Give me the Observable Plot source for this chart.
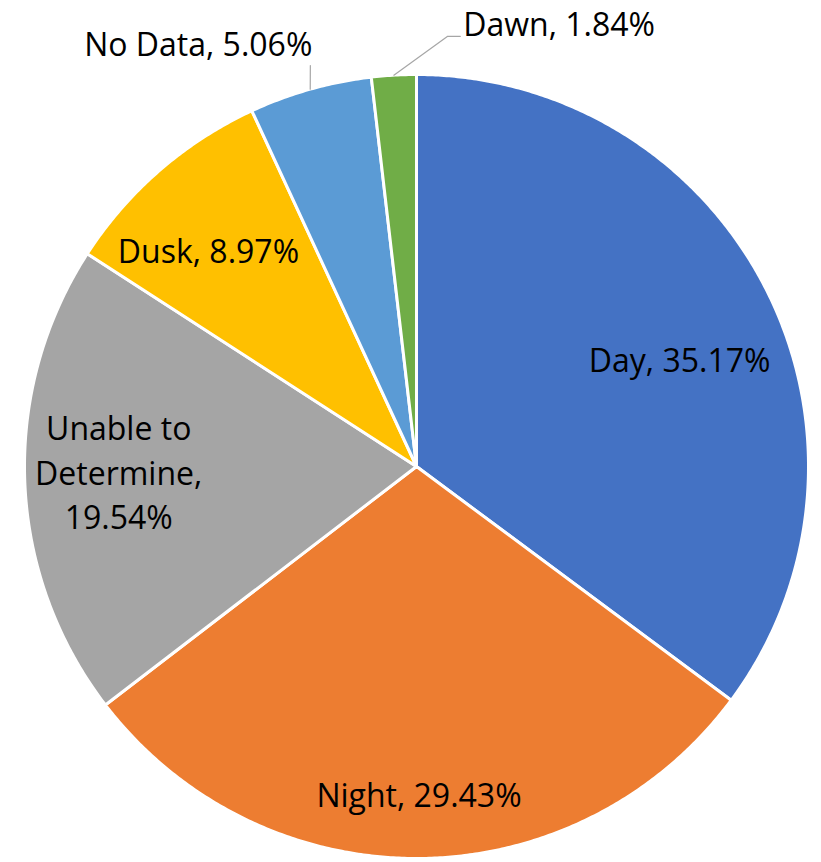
<!DOCTYPE html>
<html><head><meta charset="utf-8">
<script src="https://cdn.jsdelivr.net/npm/d3@7"></script>
<script src="https://cdn.jsdelivr.net/npm/@observablehq/plot@0.6"></script>
<style>body{margin:0;background:#fff}</style>
</head><body><div id="chart"></div>
<script>
// ---- data ----
const categories = ["Day", "Night", "Unable to Determine", "Dusk", "No Data", "Dawn"];
const values = [35.17, 29.43, 19.54, 8.97, 5.06, 1.84];
const labels = ["Day, 35.17%", "Night, 29.43%", "Unable to\nDetermine,\n19.54%", "Dusk, 8.97%", "No Data, 5.06%", "Dawn, 1.84%"];
const colors = ["#4472C4", "#ED7D31", "#A5A5A5", "#FFC000", "#5B9BD5", "#70AD47"];

// ---- label layout (angle shift in degrees, radius as fraction of pie radius) ----
const labelShift = [5.1, 0, 0.6, -3.3, 0, 0];
const labelRadius = [0.722, 0.845, 0.76, 0.76, null, null];
// outside labels: elbow angle/radius of leader, tail length, anchor
const outside = {
  "No Data": {elbowShift: 0.9, elbowR: 1.058, tail: 0, anchor: "end", dx: 2, dy: -20},
  "Dawn": {elbowAngle: 4.1, elbowR: 1.10, tail: 0.033, anchor: "start", dx: 3, dy: -11}
};

const total = d3.sum(values);
const rad = d => d * Math.PI / 180;
const pt = (a, r) => ({x: r * Math.sin(rad(a)), y: r * Math.cos(rad(a))});
let acc = 0;
const slices = categories.map((c, i) => {
  const a0 = acc / total * 360; acc += values[i]; const a1 = acc / total * 360;
  return {c, i, a0, a1, mid: (a0 + a1) / 2, label: labels[i]};
});

const wedgePts = slices.flatMap(s => {
  const n = Math.max(4, Math.ceil((s.a1 - s.a0) / 0.4));
  const arr = [{c: s.c, ...pt(0, 0)}];
  for (let k = 0; k <= n; k++) arr.push({c: s.c, ...pt(s.a0 + (s.a1 - s.a0) * k / n, 1)});
  return arr;
});

const inside = slices.filter(s => labelRadius[s.i] != null)
  .map(s => ({label: s.label, ...pt(s.mid + labelShift[s.i], labelRadius[s.i])}));

const leaderPts = [];
const outLabels = [];
slices.filter(s => outside[s.c]).forEach(s => {
  const o = outside[s.c];
  const p0 = pt(s.mid, 1);
  const ea = o.elbowAngle != null ? o.elbowAngle : s.mid + o.elbowShift;
  const p1 = pt(ea, o.elbowR);
  const p2 = {x: p1.x + o.tail, y: p1.y};
  leaderPts.push({c: s.c, ...p0}, {c: s.c, ...p1}, {c: s.c, ...p2});
  outLabels.push({c: s.c, label: s.label, ...p2, o});
});

const font = "'Open Sans', sans-serif";
const fs = 32;

const chart = Plot.plot({
  width: 821,
  height: 862,
  margin: 0,
  x: {domain: [-1, 1], range: [24, 808], axis: null},
  y: {domain: [-1, 1], range: [858, 74], axis: null},
  color: {domain: categories, range: colors},
  style: {background: "#fff"},
  marks: [
    Plot.line(wedgePts, {x: "x", y: "y", z: "c", fill: "c", stroke: "white", strokeWidth: 3, strokeLinejoin: "round", curve: "linear-closed"}),
    Plot.line(leaderPts, {x: "x", y: "y", z: "c", stroke: "#a6a6a6", strokeWidth: 1.2}),
    Plot.text(inside, {x: "x", y: "y", text: "label", fontSize: fs, fontFamily: font, fill: "#000", lineHeight: 1.4, dy: -5}),
    ...outLabels.map(d => Plot.text([d], {x: "x", y: "y", text: "label", fontSize: fs, fontFamily: font, fill: "#000",
      textAnchor: d.o.anchor, dx: d.o.dx, dy: d.o.dy}))
  ]
});
document.getElementById("chart").append(chart);
</script>
</body></html>
